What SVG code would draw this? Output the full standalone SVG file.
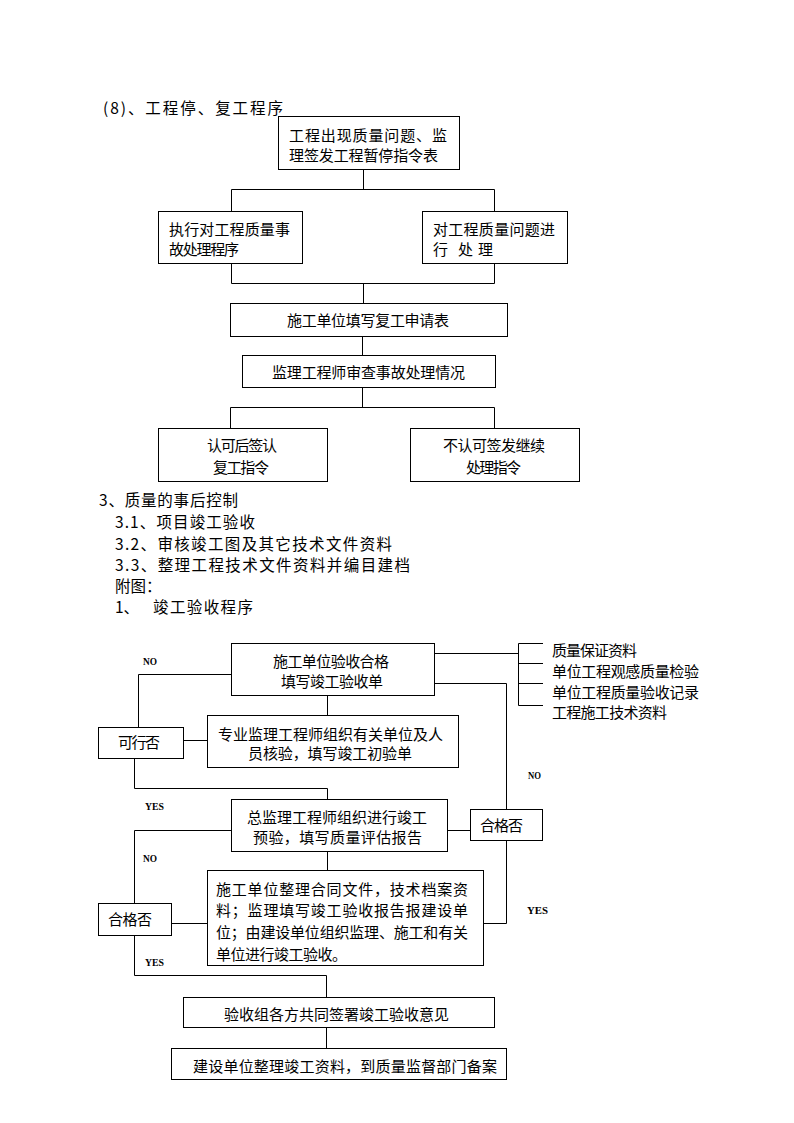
<svg xmlns="http://www.w3.org/2000/svg" width="794" height="1123" viewBox="0 0 794 1123">
<style>
rect.b{fill:none;stroke:#000;stroke-width:1}
.c path{fill:none;stroke:#000;stroke-width:1}
text{font-family:"Noto Sans CJK SC","Noto Sans CJK JP",sans-serif;font-size:15px;fill:#000}
text.s{font-size:15.5px}
text.e{font-family:"Liberation Serif",serif;font-size:11px;font-weight:bold}
</style>
<rect width="794" height="1123" fill="#fff"/>
<text class="s" x="103" y="113.5" textLength="180" lengthAdjust="spacing">(8)、工程停、复工程序</text>

<g class="c" id="connectors">
<path d="M363.5 169 V189.5 M231.5 211 V189.5 H494.5 V211"/>
<path d="M231.5 263 V283.5 H494.5 V263 M363.5 283.5 V303"/>
<path d="M362.5 336 V355"/>
<path d="M362.5 387 V407.5 M230.5 428 V407.5 H494.5 V428"/>
<path d="M434 653.5 H518.5 M543 643.5 H518.5 V705.5 H543 M518.5 663.5 H543 M518.5 683.5 H543"/>
<path d="M434 683.5 H506.5 V809"/>
<path d="M231 674.5 H138.5 V727"/>
<path d="M183 740.5 H207"/>
<path d="M327.5 695 V715"/>
<path d="M134.5 758 V788.5 H327.5 V799"/>
<path d="M447 830.5 H470"/>
<path d="M506.5 840 V923.5 H483"/>
<path d="M231 830.5 H134.5 V903"/>
<path d="M171 923.5 H207"/>
<path d="M327.5 851 V870"/>
<path d="M134.5 935 V975.5 H326.5 V997"/>
<path d="M326.5 1027 V1048"/>
</g>

<g id="n1"><rect class="b" x="278.5" y="116.5" width="181" height="53"/>
<text x="289" y="140.5" textLength="158" lengthAdjust="spacing">工程出现质量问题、监</text>
<text x="289" y="160.5" textLength="149" lengthAdjust="spacing">理签发工程暂停指令表</text></g>

<g id="n2"><rect class="b" x="158.5" y="211.5" width="144" height="52"/>
<text x="169" y="235" textLength="121" lengthAdjust="spacing">执行对工程质量事</text>
<text x="169" y="255" textLength="70" lengthAdjust="spacing">故处理程序</text></g>

<g id="n3"><rect class="b" x="422.5" y="211.5" width="145" height="52"/>
<text x="433" y="235" textLength="122" lengthAdjust="spacing">对工程质量问题进</text>
<text x="433 458 478" y="255">行处理</text></g>

<g id="n4"><rect class="b" x="230.5" y="303.5" width="277" height="33"/>
<text x="287" y="326" textLength="162" lengthAdjust="spacing">施工单位填写复工申请表</text></g>

<g id="n5"><rect class="b" x="242.5" y="355.5" width="253" height="32"/>
<text x="272" y="378" textLength="193" lengthAdjust="spacing">监理工程师审查事故处理情况</text></g>

<g id="n6"><rect class="b" x="158.5" y="428.5" width="169" height="53"/>
<text x="207" y="450.5" textLength="70" lengthAdjust="spacing">认可后签认</text>
<text x="213" y="472.5" textLength="56" lengthAdjust="spacing">复工指令</text></g>

<g id="n7"><rect class="b" x="410.5" y="428.5" width="169" height="53"/>
<text x="443" y="450.5" textLength="102" lengthAdjust="spacing">不认可签发继续</text>
<text x="466" y="472.5" textLength="55" lengthAdjust="spacing">处理指令</text></g>

<g id="section">
<text class="s" x="99" y="506" textLength="139" lengthAdjust="spacing">3、质量的事后控制</text>
<text class="s" x="115" y="528" textLength="140" lengthAdjust="spacing">3.1、项目竣工验收</text>
<text class="s" x="115" y="549.5" textLength="277" lengthAdjust="spacing">3.2、审核竣工图及其它技术文件资料</text>
<text class="s" x="115" y="570.5" textLength="295" lengthAdjust="spacing">3.3、整理工程技术文件资料并编目建档</text>
<text class="s" x="115" y="591.5">附图：</text>
<text class="s" x="115" y="613">1、</text>
<text class="s" x="153" y="613" textLength="100" lengthAdjust="spacing">竣工验收程序</text>
</g>

<g id="m1"><rect class="b" x="231.5" y="643.5" width="203" height="52"/>
<text x="273" y="666.5" textLength="116" lengthAdjust="spacing">施工单位验收合格</text>
<text x="281" y="686.5" textLength="102" lengthAdjust="spacing">填写竣工验收单</text></g>

<g id="docs">
<text x="552" y="655.5" textLength="85" lengthAdjust="spacing">质量保证资料</text>
<text x="552" y="676.5" textLength="147" lengthAdjust="spacing">单位工程观感质量检验</text>
<text x="552" y="697.5" textLength="147" lengthAdjust="spacing">单位工程质量验收记录</text>
<text x="552" y="717.5" textLength="115" lengthAdjust="spacing">工程施工技术资料</text>
</g>

<g id="m2"><rect class="b" x="98.5" y="727.5" width="85" height="31"/>
<text x="118" y="747.5" textLength="42" lengthAdjust="spacing">可行否</text></g>

<g id="m3"><rect class="b" x="207.5" y="715.5" width="251" height="52"/>
<text x="218" y="739.5" textLength="225" lengthAdjust="spacing">专业监理工程师组织有关单位及人</text>
<text x="248" y="758.5" textLength="164" lengthAdjust="spacing">员核验，填写竣工初验单</text></g>

<g id="m4"><rect class="b" x="231.5" y="799.5" width="216" height="52"/>
<text x="247" y="823" textLength="180" lengthAdjust="spacing">总监理工程师组织进行竣工</text>
<text x="253" y="843" textLength="169" lengthAdjust="spacing">预验，填写质量评估报告</text></g>

<g id="m5"><rect class="b" x="470.5" y="809.5" width="72" height="31"/>
<text x="480" y="830.5" textLength="43" lengthAdjust="spacing">合格否</text></g>

<g id="m6"><rect class="b" x="98.5" y="903.5" width="73" height="32"/>
<text x="108" y="924.5" textLength="44" lengthAdjust="spacing">合格否</text></g>

<g id="m7"><rect class="b" x="207.5" y="870.5" width="276" height="95"/>
<text x="216" y="894.5" textLength="252" lengthAdjust="spacing">施工单位整理合同文件，技术档案资</text>
<text x="216" y="915.5" textLength="252" lengthAdjust="spacing">料；监理填写竣工验收报告报建设单</text>
<text x="216" y="937.5" textLength="252" lengthAdjust="spacing">位；由建设单位组织监理、施工和有关</text>
<text x="216" y="959.5" textLength="131" lengthAdjust="spacing">单位进行竣工验收。</text></g>

<g id="m8"><rect class="b" x="183.5" y="997.5" width="311" height="30"/>
<text x="224" y="1019.5" textLength="225" lengthAdjust="spacing">验收组各方共同签署竣工验收意见</text></g>

<g id="m9"><rect class="b" x="171.5" y="1048.5" width="335" height="31"/>
<text x="193" y="1071.5" textLength="304" lengthAdjust="spacing">建设单位整理竣工资料，到质量监督部门备案</text></g>

<g id="labels">
<text class="e" x="143" y="665" textLength="14" lengthAdjust="spacingAndGlyphs">NO</text>
<text class="e" x="145" y="810" textLength="19" lengthAdjust="spacingAndGlyphs">YES</text>
<text class="e" x="528" y="779" textLength="13" lengthAdjust="spacingAndGlyphs">NO</text>
<text class="e" x="527" y="914" textLength="21" lengthAdjust="spacingAndGlyphs">YES</text>
<text class="e" x="143" y="862" textLength="14" lengthAdjust="spacingAndGlyphs">NO</text>
<text class="e" x="145" y="966" textLength="19" lengthAdjust="spacingAndGlyphs">YES</text>
</g>
</svg>
